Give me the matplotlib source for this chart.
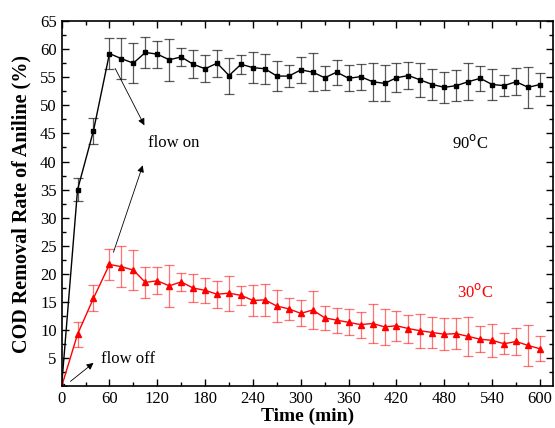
import matplotlib.pyplot as plt
import numpy as np

plt.rcParams['font.family'] = ['Liberation Serif', 'DejaVu Serif']

# time points (min)
time = [0, 20, 40, 60, 75, 90, 105, 120, 135, 150, 165, 180, 195, 210, 225, 240,
        255, 270, 285, 300, 315, 330, 345, 360, 375, 390, 405, 420, 435, 450, 465,
        480, 495, 510, 525, 540, 555, 570, 585, 600]

# 90 C series
rate_90 = [0, 35.0, 45.5, 59.2, 58.3, 57.5, 59.4, 59.1, 58.1, 58.6, 57.3, 56.5,
           57.5, 55.3, 57.3, 56.7, 56.5, 55.2, 55.2, 56.3, 55.9, 54.9, 55.9, 54.8,
           55.1, 54.2, 53.9, 54.9, 55.3, 54.5, 53.7, 53.2, 53.5, 54.2, 54.8, 53.7,
           53.5, 54.2, 53.2, 53.7]
err_90 = [0, 2.0, 2.3, 2.7, 3.6, 3.5, 2.8, 2.4, 3.7, 1.6, 2.5, 2.4,
          2.4, 3.2, 1.7, 2.7, 2.7, 2.6, 1.9, 2.3, 3.4, 2.1, 2.2, 2.3,
          2.3, 3.4, 3.2, 2.6, 2.4, 3.0, 2.7, 2.7, 2.7, 3.3, 2.2, 2.8,
          1.9, 2.4, 3.6, 2.1]

# 30 C series
rate_30 = [0, 9.3, 15.7, 21.7, 21.3, 20.7, 18.5, 18.8, 17.9, 18.6, 17.5, 17.1,
           16.4, 16.6, 16.2, 15.3, 15.4, 14.3, 13.8, 13.0, 13.6, 12.2, 11.8, 11.4,
           11.0, 11.2, 10.6, 10.8, 10.3, 9.9, 9.6, 9.3, 9.4, 8.9, 8.4, 8.2,
           7.6, 8.0, 7.3, 6.7]
err_30 = [0, 2.2, 2.3, 2.7, 3.6, 3.5, 2.8, 2.4, 3.7, 1.6, 2.5, 2.2,
          2.4, 3.1, 1.7, 2.7, 2.8, 2.8, 1.9, 2.3, 3.4, 2.2, 2.2, 2.3,
          2.3, 3.5, 3.2, 2.7, 2.5, 3.0, 2.8, 2.8, 2.8, 3.4, 2.3, 3.0,
          1.9, 2.4, 3.6, 2.2]

fig = plt.figure(figsize=(5.55, 4.28), dpi=100)
ax = fig.add_axes([0.111, 0.097, 0.885, 0.854])

ax.errorbar(time, rate_90, yerr=err_90, color='black', marker='s', markersize=3.5,
            linewidth=1, ecolor=(0, 0, 0, 0.65), elinewidth=0.9, capsize=3.5,
            capthick=0.9)
ax.errorbar(time, rate_30, yerr=err_30, color='red', marker='^', markersize=4,
            linewidth=1, ecolor=(1, 0, 0, 0.55), elinewidth=0.9, capsize=3.5,
            capthick=0.9)

# annotations
ax.annotate('', xy=(105.4, 46.0), xytext=(65.6, 57.0),
            arrowprops=dict(arrowstyle='-|>', color='black', lw=0.6,
                            mutation_scale=10))
ax.annotate('', xy=(102.9, 39.8), xytext=(63.9, 23.4),
            arrowprops=dict(arrowstyle='-|>', color='black', lw=0.6,
                            mutation_scale=10))
ax.text(108, 43.3, 'flow on', fontsize=12, va='center', ha='left')
ax.annotate('', xy=(42.7, 4.5), xytext=(8.4, 0.6),
            arrowprops=dict(arrowstyle='-|>', color='black', lw=0.6,
                            mutation_scale=10))
ax.text(49.4, 4.8, 'flow off', fontsize=12, va='center', ha='left')
ax.text(490, 43.3, r'90$^{\mathrm{o}}$C', fontsize=12, va='center', ha='left')
ax.text(496, 16.8, r'30$^{\mathrm{o}}$C', fontsize=12, va='center', ha='left',
        color='red')

ax.set_xlim(0, 616)
ax.set_ylim(0, 65)
ax.set_xticks(range(0, 601, 60))
ax.set_xticks(range(30, 601, 60), minor=True)
ax.set_yticks(range(5, 66, 5))
ax.set_yticks(np.arange(2.5, 65, 5), minor=True)
ax.tick_params(which='both', direction='in', top=True, right=True, labelsize=12,
               width=1)
ax.tick_params(which='major', length=5)
ax.tick_params(which='minor', length=3)
for s in ax.spines.values():
    s.set_linewidth(1.2)

ax.set_xlabel('Time (min)', fontsize=14, fontweight='bold', labelpad=0)
ax.set_ylabel('COD Removal Rate of Aniline (%)', fontsize=14.5, fontweight='bold',
              labelpad=6)

plt.savefig('out.png', dpi=100)
